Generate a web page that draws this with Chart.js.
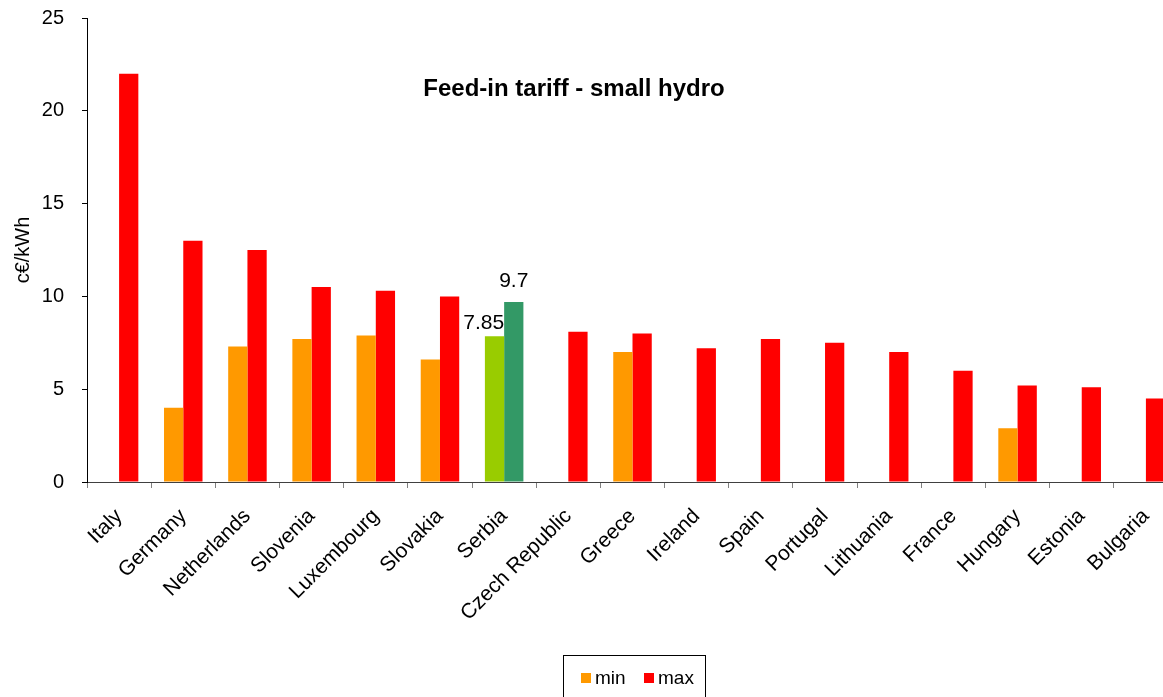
<!DOCTYPE html>
<html>
<head>
<meta charset="utf-8">
<script src="https://cdn.jsdelivr.net/npm/chart.js@4/dist/chart.umd.min.js"></script>
<style>
  html, body { margin: 0; padding: 0; background: #fff; overflow: hidden; }
  #wrap { width: 1180px; height: 697px; }
</style>
</head>
<body>
<div id="wrap"><canvas id="chart" width="1180" height="697"></canvas></div>
<script>
// ---------- data ----------
const countries = ["Italy", "Germany", "Netherlands", "Slovenia", "Luxembourg", "Slovakia", "Serbia",
  "Czech Republic", "Greece", "Ireland", "Spain", "Portugal", "Lithuania", "France", "Hungary", "Estonia", "Bulgaria"];
const minValues = [null, 4, 7.3, 7.7, 7.9, 6.6, 7.85, null, 7, null, null, null, null, null, 2.9, null, null];
const maxValues = [22, 13, 12.5, 10.5, 10.3, 10, 9.7, 8.1, 8, 7.2, 7.7, 7.5, 7, 6, 5.2, 5.1, 4.5];
const yTicks = [0, 5, 10, 15, 20, 25];
const highlight = "Serbia";
const titleText = "Feed-in tariff - small hydro";

const FONT = "Arial, 'Liberation Sans', sans-serif";
const ORANGE = "#FF9900", RED = "#FF0000", LIME = "#99CC00", TEAL = "#339966";

const minColors = countries.map(c => c === highlight ? LIME : ORANGE);
const maxColors = countries.map(c => c === highlight ? TEAL : RED);

// title, value labels on the highlighted pair, boxed legend
const extras = {
    id: "extras",
    afterDatasetsDraw(chart) {
        const ctx = chart.ctx;
        const idx = countries.indexOf(highlight);
        ctx.save();
        ctx.fillStyle = "#000";

        // title inside the plot
        ctx.font = "bold 24px " + FONT;
        ctx.textAlign = "center";
        ctx.textBaseline = "middle";
        ctx.fillText(titleText, 574, 89);

        // value labels
        ctx.font = "21px " + FONT;
        ctx.textBaseline = "alphabetic";
        const minBar = chart.getDatasetMeta(0).data[idx];
        const maxBar = chart.getDatasetMeta(1).data[idx];
        ctx.textAlign = "right";
        ctx.fillText(String(minValues[idx]), minBar.x + minBar.width / 2, minBar.y - 7);
        ctx.textAlign = "center";
        ctx.fillText(String(maxValues[idx]), maxBar.x, maxBar.y - 15);

        // legend
        const boxL = 563, boxT = 655, boxW = 142, boxH = 60;
        ctx.strokeStyle = "#000";
        ctx.lineWidth = 1;
        ctx.strokeRect(boxL + 0.5, boxT + 0.5, boxW, boxH);
        ctx.font = "19px " + FONT;
        ctx.textAlign = "left";
        ctx.textBaseline = "middle";
        const items = [["min", ORANGE, 581], ["max", RED, 644]];
        items.forEach(([label, color, x]) => {
            ctx.fillStyle = color;
            ctx.fillRect(x, 673, 10, 10);
            ctx.fillStyle = "#000";
            ctx.fillText(label, x + 14, 679);
        });
        ctx.restore();
    }
};

new Chart(document.getElementById("chart"), {
    type: "bar",
    data: {
        labels: countries,
        datasets: [
            { label: "min", data: minValues, backgroundColor: minColors },
            { label: "max", data: maxValues, backgroundColor: maxColors }
        ]
    },
    options: {
        responsive: false,
        animation: false,
        datasets: { bar: { categoryPercentage: 0.6, barPercentage: 1 } },
        layout: { padding: { top: 18, right: 2, left: 0, bottom: 0 } },
        plugins: {
            legend: { display: false },
            tooltip: { enabled: false },
            title: { display: false }
        },
        scales: {
            x: {
                grid: { display: true, drawOnChartArea: false, tickLength: 6, color: "#808080", offset: true },
                border: { color: "#404040", width: 1 },
                ticks: {
                    color: "#000",
                    font: { family: FONT, size: 21 },
                    maxRotation: 45, minRotation: 45,
                    padding: 16
                },
                afterFit(scale) { scale.height = 215; }
            },
            y: {
                min: 0, max: 25,
                afterBuildTicks(scale) { scale.ticks = yTicks.map(v => ({ value: v })); },
                grid: { display: true, drawOnChartArea: false, tickLength: 5, color: "#000" },
                border: { color: "#000", width: 1 },
                ticks: {
                    color: "#000",
                    font: { family: FONT, size: 20 },
                    padding: 18
                },
                title: {
                    display: true,
                    text: "c€/kWh",
                    color: "#000",
                    font: { family: FONT, size: 20 },
                    padding: { top: 11, bottom: 0 }
                },
                afterFit(scale) {
                    scale.width = 87;
                    scale.paddingTop = 0;
                    scale.paddingBottom = 0;
                }
            }
        }
    },
    plugins: [extras]
});
</script>
</body>
</html>
